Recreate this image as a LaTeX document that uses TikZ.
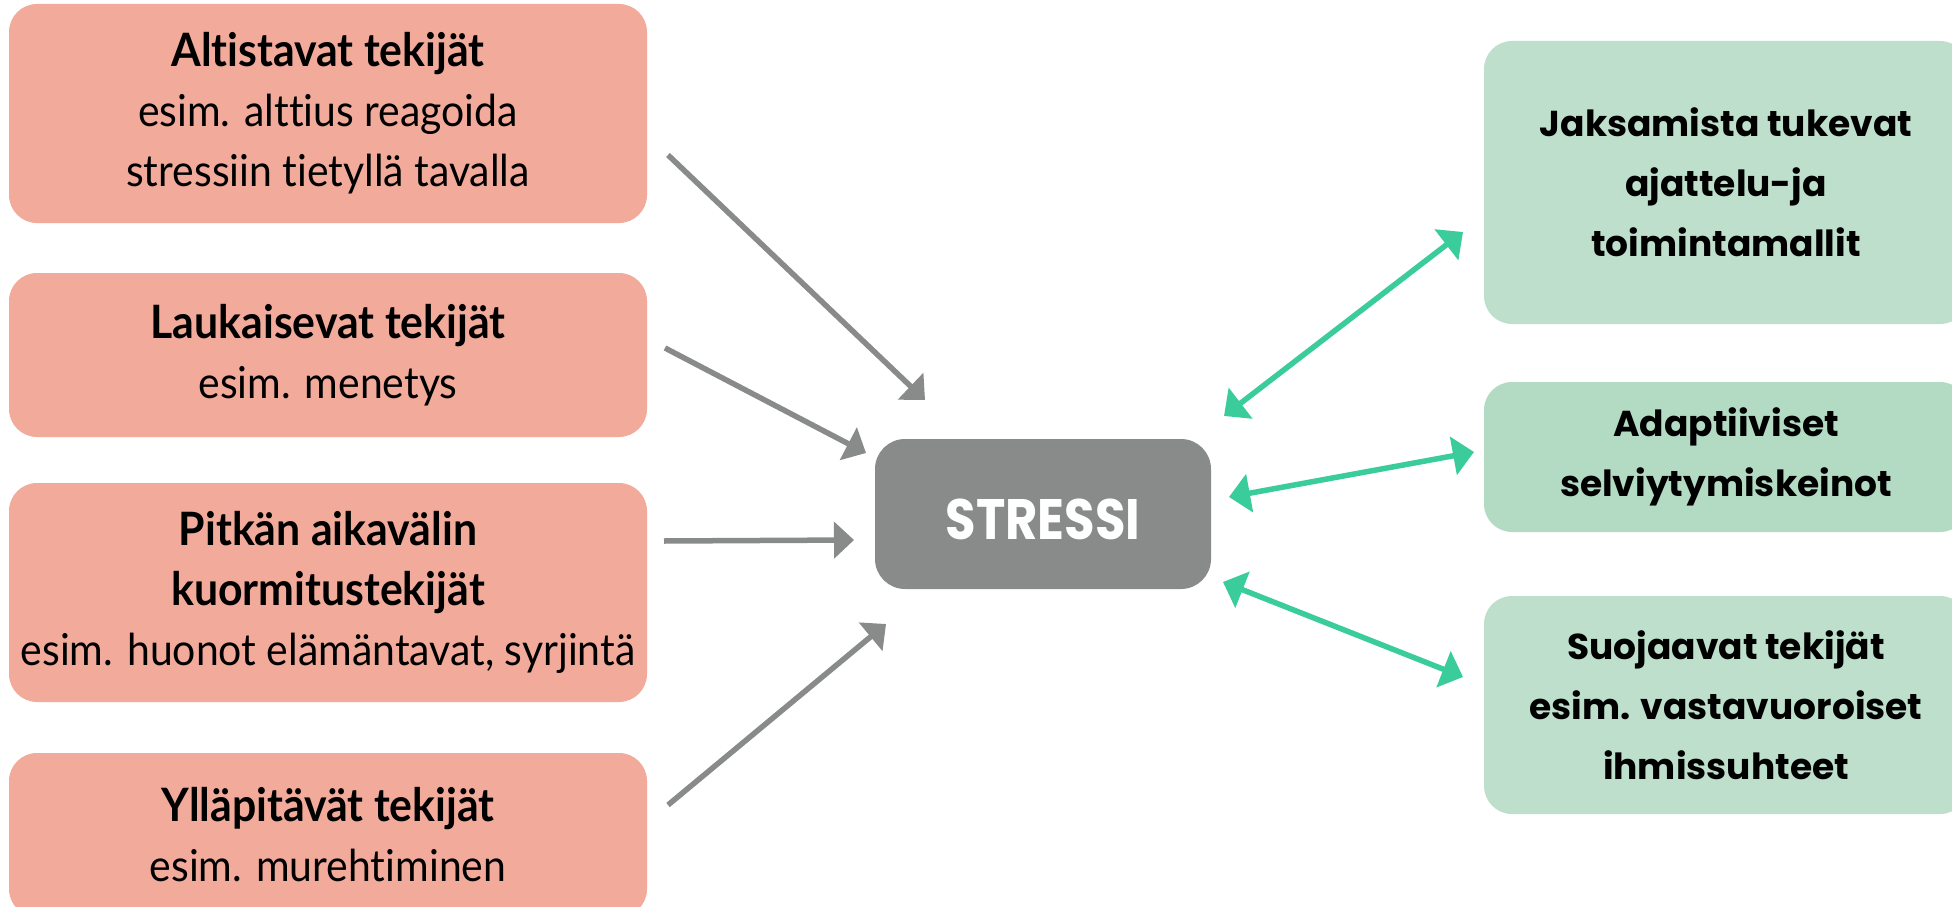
\documentclass[tikz,border=0pt]{standalone}
\usepackage{fontspec}
\setmainfont{Lato}
\newfontfamily\leftfont[FakeStretch=0.93,Ligatures=NoCommon]{Lato}
\newfontfamily\rightfont[Ligatures=NoCommon]{Poppins}
\newfontfamily\stressfont[FakeStretch=0.87]{Poppins}
\usetikzlibrary{arrows.meta}
\definecolor{pinkc}{HTML}{F2AB9B}
\definecolor{greenc}{HTML}{BDDFCB}
\definecolor{greend}{HTML}{B3DBC4}
\definecolor{grayc}{HTML}{888B8A}
\definecolor{tealc}{HTML}{3ACC9A}
\newcommand{\ttl}[1]{{\bfseries\fontsize{46}{60}\selectfont #1}}
\begin{document}
\begin{tikzpicture}[x=1pt,y=-1pt,
  lbox/.style={rectangle, rounded corners=28pt, fill=pinkc, minimum width=638pt, inner sep=0pt, align=center,
    font=\leftfont\fontsize{44}{60}\selectfont},
  rbox/.style={rectangle, rounded corners=28pt, fill=greenc, minimum width=484pt, inner sep=0pt, align=center,
    font=\rightfont\bfseries\fontsize{36}{60}\selectfont},
  sbox/.style={rectangle, rounded corners=30pt, fill=grayc, minimum width=336pt, minimum height=150pt, inner sep=0pt,
    text=white, font=\stressfont\bfseries\fontsize{57}{60}\selectfont},
  garrow/.style={draw=grayc, line width=5.5pt, -{Triangle[length=20pt,width=36pt]}, fill=grayc},
  tarrow/.style={draw=tealc, line width=5.5pt, {Triangle[length=21pt,width=38pt]}-{Triangle[length=21pt,width=38pt]}, fill=tealc}
]
\useasboundingbox (0,0) rectangle (1952,907);
\fill[white] (0,0) rectangle (1952,907);

% left boxes
\node[lbox, minimum height=219pt] (b1) at (328,113.5) {\ttl{Altistavat tekijät}\\esim. alttius reagoida\\stressiin tietyllä tavalla};
\node[lbox, minimum height=164pt] (b2) at (328,355) {\ttl{Laukaisevat tekijät}\\esim. menetys};
\node[lbox, minimum height=219pt] (b3) at (328,592.5) {\ttl{Pitkän aikavälin}\\\ttl{kuormitustekijät}\\esim. huonot elämäntavat, syrjintä};
\node[lbox, minimum height=164pt] (b4) at (328,835) {\ttl{Ylläpitävät tekijät}\\esim. murehtiminen};

% centre
\node[sbox] (s) at (1043,514) {\raisebox{-5pt}[\height][\depth]{STRESSI}};

% right boxes
\node[rbox, minimum height=283pt] (r1) at (1726,182.5) {Jaksamista tukevat\\ajattelu-ja\\toimintamallit};
\node[rbox, fill=greend, minimum height=150pt] (r2) at (1726,457) {Adaptiiviset\\selviytymiskeinot};
\node[rbox, minimum height=218pt] (r3) at (1726,705) {Suojaavat tekijät\\esim. vastavuoroiset\\ihmissuhteet};

% arrow ends
\coordinate (a1s) at (668,155); \coordinate (a1e) at (925,400);
\coordinate (a2s) at (665,348); \coordinate (a2e) at (866,453);
\coordinate (a3s) at (664,541); \coordinate (a3e) at (854,540);
\coordinate (a4s) at (668,805); \coordinate (a4e) at (886,624);
\coordinate (t1s) at (1224,416); \coordinate (t1e) at (1463,232);
\coordinate (t2s) at (1229,497); \coordinate (t2e) at (1474,452);
\coordinate (t3s) at (1223,582); \coordinate (t3e) at (1463,677);

\draw[garrow] (a1s) -- (a1e);
\draw[garrow] (a2s) -- (a2e);
\draw[garrow] (a3s) -- (a3e);
\draw[garrow] (a4s) -- (a4e);
\draw[tarrow] (t1s) -- (t1e);
\draw[tarrow] (t2s) -- (t2e);
\draw[tarrow] (t3s) -- (t3e);
\end{tikzpicture}
\end{document}
